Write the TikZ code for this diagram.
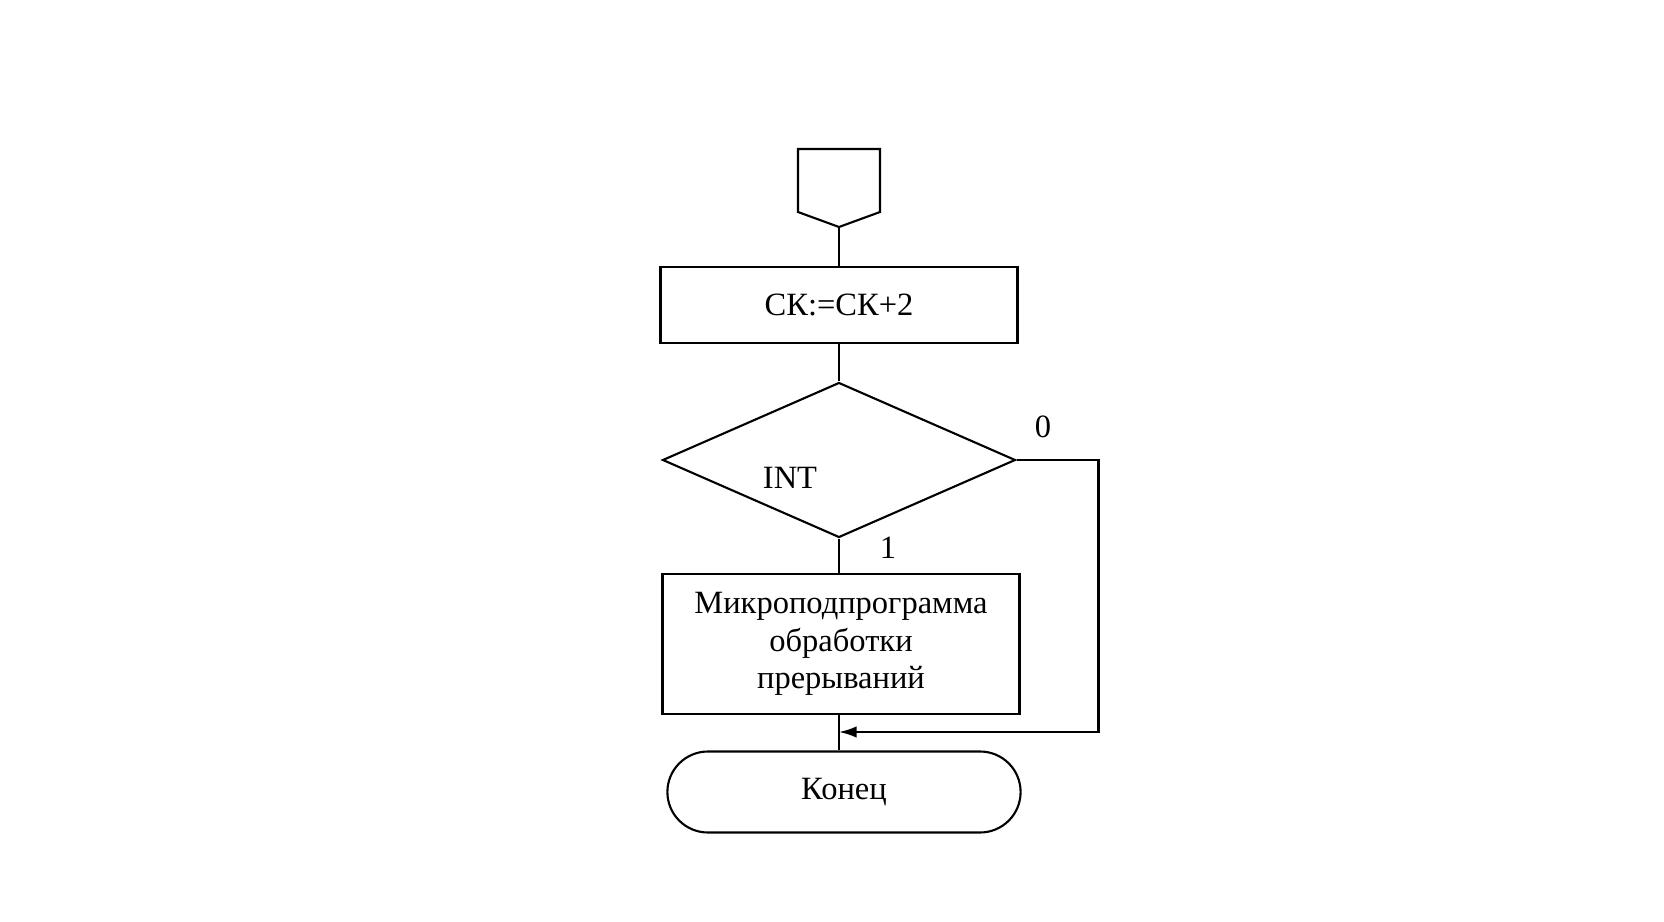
\documentclass[tikz,border=0pt]{standalone}
\usepackage{fontspec}
\setmainfont{Liberation Serif}
\usetikzlibrary{shapes.geometric,shapes.misc,arrows.meta}
\begin{document}
\begin{tikzpicture}[x=0.02cm,y=-0.02cm,line width=1.2pt,
    txt/.style={font=\fontsize{18.5}{21.5}\selectfont},
    block/.style={draw,rectangle,minimum width=7.14cm,align=center,txt},
    flow/.style={-{Latex[length=10pt,width=6.5pt]}}]
    \useasboundingbox (0,0) rectangle (1664,922);
    % Entry connector
    \draw (798,149) -- (880,149) -- (880,212) -- (839,227) -- (798,212) -- cycle;
    \coordinate (entry) at (839,227);
    % Blocks
    \node[block,minimum height=1.52cm] (sk) at (839,305) {СК:=СК+2};
    \node[draw,diamond,minimum width=7.06cm,minimum height=3.1cm,inner sep=0] (int) at (839,460) {};
    \node[txt] (intlabel) at (790,478) {INT};
    \node[block,minimum height=2.8cm] (sub) at (841,644) {Микроподпрограмма\\обработки\\прерываний};
    \node[draw,rounded rectangle,minimum width=7.3cm,minimum height=1.62cm,txt] (end) at (844,792) {Конец};
    % Branch labels
    \node[txt] (zero) at (1043,427) {0};
    \node[txt] (one) at (888,548) {1};
    % Connectors
    \coordinate (join) at (839,732);
    \draw (entry) -- (sk.north);
    \draw (sk.south) -- (int.north);
    \draw (int.south) -- (int.south |- sub.north);
    \draw (int.south |- sub.south) -- (int.south |- end.north);
    \draw[flow] (int.east) -- ++(82,0) |- (join);
\end{tikzpicture}
\end{document}
